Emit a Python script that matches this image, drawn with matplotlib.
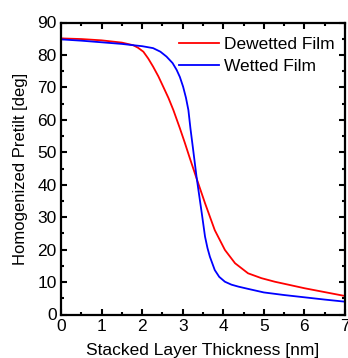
import matplotlib
matplotlib.use("Agg")
import matplotlib.pyplot as plt
from matplotlib.ticker import MultipleLocator

plt.rcParams['font.family'] = ['Liberation Sans', 'DejaVu Sans']
FS = 12.5

# Dewetted Film (red)
red_x = [0, 0.5, 1.0, 1.5, 1.78, 1.9, 2.03, 2.15, 2.27, 2.4, 2.52, 2.65, 2.77, 2.93, 3.05,
         3.18, 3.34, 3.55, 3.79, 4.04, 4.29, 4.61, 4.94, 5.27, 5.6, 6.0, 6.5, 7.0]
red_y = [85.1, 84.9, 84.5, 83.8, 83.0, 82.2, 81.0, 78.9, 76.4, 73.4, 70.2, 66.7, 63.0, 57.4, 53.0,
         48.0, 42.0, 34.3, 26.0, 19.9, 15.8, 12.7, 11.2, 10.1, 9.2, 8.1, 6.9, 5.7]

# Wetted Film (blue)
blue_x = [0, 0.5, 1.0, 1.5, 1.78, 2.0, 2.27, 2.45, 2.6, 2.75, 2.85, 2.93, 3.01, 3.08, 3.14,
          3.19, 3.25, 3.30, 3.34, 3.38, 3.47, 3.55, 3.61, 3.67, 3.79, 3.9, 4.04, 4.2, 4.37,
          4.61, 5.0, 5.5, 6.0, 6.5, 7.0]
blue_y = [84.8, 84.4, 83.9, 83.4, 83.0, 82.7, 82.1, 81.0, 79.5, 77.5, 75.4, 73.2, 70.2, 66.8, 63.0,
          57.4, 51.5, 46.5, 42.5, 39.0, 31.2, 24.0, 20.5, 17.8, 13.7, 11.6, 10.1, 9.2, 8.6,
          7.9, 6.8, 6.0, 5.3, 4.6, 3.95]

fig = plt.figure(figsize=(3.48, 3.58), dpi=100)
ax = fig.add_axes([61/348, 1-314.5/358, (345-61)/348, (314.5-22.5)/358])

ax.plot(red_x, red_y, color='#ff0000', lw=1.3, label='Dewetted Film')
ax.plot(blue_x, blue_y, color='#0000ff', lw=1.3, label='Wetted Film')

ax.set_xlim(0, 7)
ax.set_ylim(0, 90)
ax.xaxis.set_major_locator(MultipleLocator(1))
ax.xaxis.set_minor_locator(MultipleLocator(0.5))
ax.yaxis.set_major_locator(MultipleLocator(10))
ax.yaxis.set_minor_locator(MultipleLocator(5))
ax.tick_params(which='both', direction='in', top=True, right=True, width=1.5)
ax.tick_params(which='major', length=4, labelsize=FS, pad=3)
ax.tick_params(which='minor', length=2.5)
for s in ax.spines.values():
    s.set_linewidth(1.6)

ax.set_xlabel('Stacked Layer Thickness [nm]', fontsize=FS, labelpad=7)
ax.set_ylabel('Homogenized Pretilt [deg]', fontsize=12, labelpad=7)

ax.legend(loc='upper right', frameon=False, fontsize=FS, handlelength=2.3,
          handletextpad=0.3, labelspacing=0.35, borderaxespad=0.2,
          bbox_to_anchor=(1.0, 0.985))

fig.savefig('out.png', dpi=100)
